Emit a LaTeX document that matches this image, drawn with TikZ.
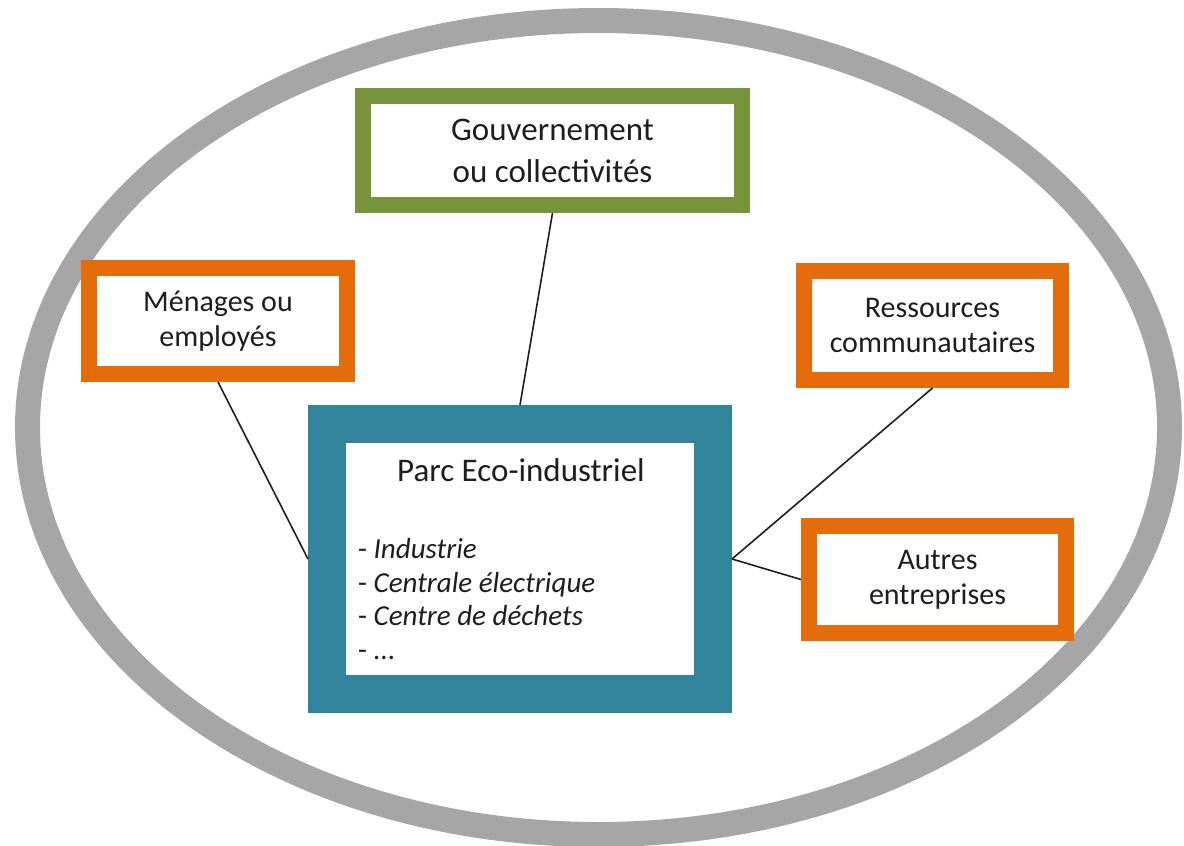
\documentclass[tikz,border=0pt]{standalone}
\usepackage{fontspec}
\setmainfont{Carlito}
\definecolor{ringgray}{HTML}{A6A6A6}
\definecolor{govgreen}{HTML}{77933C}
\definecolor{actorange}{HTML}{E46C0A}
\definecolor{parkteal}{HTML}{31849B}
\definecolor{inkdark}{HTML}{1E1E1E}
\begin{document}
\begin{tikzpicture}[x=1pt,y=-1pt,
  framebox/.style={draw, fill=white, line width=16pt, inner sep=0pt,
    align=center, text=inkdark},
  actorbox/.style={framebox, draw=actorange, font=\fontsize{30}{35}\selectfont},
  link/.style={draw=inkdark, line width=1.6pt}]
\useasboundingbox (0,0) rectangle (1184,846);

% outer ring
\draw[ringgray, line width=25pt] (598.5,427.5) ellipse [x radius=571pt, y radius=407pt];

% actors
\node[framebox, draw=govgreen, minimum width=379pt, minimum height=109pt,
      font=\fontsize{33}{42}\selectfont] (gov) at (552.5,150.5)
      {Gouvernement\\ou collectivités};
\node[actorbox, minimum width=258pt, minimum height=106pt] (men) at (218,321)
      {Ménages ou\\employés};
\node[actorbox, minimum width=257pt, minimum height=109pt] (res) at (932.5,325.5)
      {Ressources\\communautaires};
\node[actorbox, minimum width=257pt, minimum height=107pt] (aut) at (937.5,579.5)
      {Autres\\entreprises};

% eco-industrial park
\node[framebox, draw=parkteal, line width=38pt, minimum width=386pt,
      minimum height=270pt] (park) at (520,559) {};
\node[text=inkdark, font=\fontsize{33}{40}\selectfont] (title) at (521,470)
      {Parc Eco-industriel};
\node[text=inkdark, anchor=west, align=left, inner sep=0pt,
      font=\fontsize{29}{33.5}\selectfont] (list) at (358,599)
      {- \textit{Industrie}\\- \textit{Centrale électrique}\\
       - \textit{Centre de déchets}\\- \textit{...}};

% links
\draw[link] (gov.south) -- (park.north);
\draw[link] (men.south) -- (park.west);
\draw[link] (res.south) -- (park.east);
\draw[link] (aut.west) -- (park.east);
\end{tikzpicture}
\end{document}
